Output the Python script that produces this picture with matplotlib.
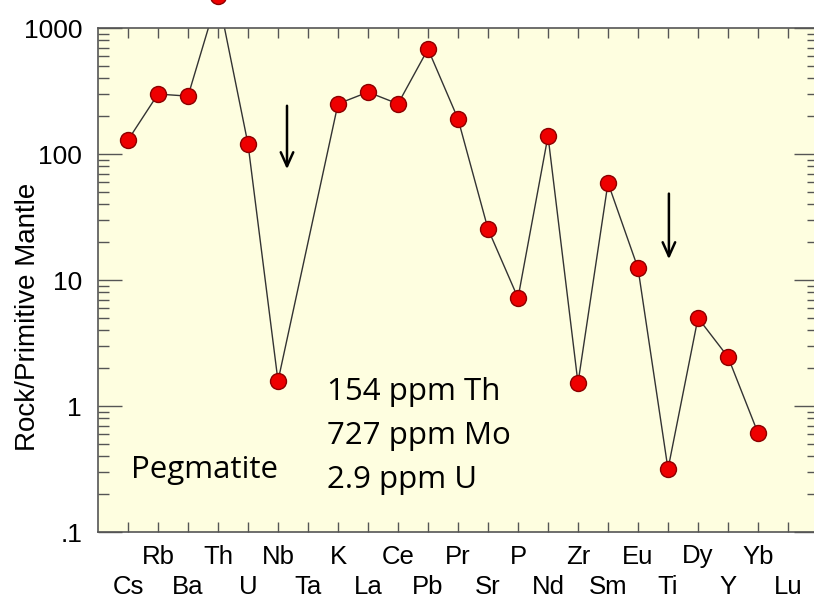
import matplotlib
matplotlib.use("Agg")
import matplotlib.pyplot as plt
import numpy as np
from matplotlib.ticker import FixedLocator, LogLocator, NullFormatter

elements = ["Cs", "Rb", "Ba", "Th", "U", "Nb", "Ta", "K", "La", "Ce", "Pb", "Pr",
            "Sr", "P", "Nd", "Zr", "Sm", "Eu", "Ti", "Dy", "Y", "Yb", "Lu"]
values = [129, 299, 288, 1800, 120, 1.58, None, 250, 310, 250, 681, 190,
          25.4, 7.2, 139, 1.52, 59, 12.4, 0.316, 5.0, 2.45, 0.61, None]
ytick_vals = [0.1, 1, 10, 100, 1000]
ytick_labels = [".1", "1", "10", "100", "1000"]
note_lines = ["154 ppm Th", "727 ppm Mo", "2.9 ppm U"]

plt.rcParams['font.family'] = ['Liberation Sans', 'DejaVu Sans']

W, H = 814, 601
fig = plt.figure(figsize=(W/100, H/100), dpi=100)
ax = fig.add_axes([98/W, 1-532/H, 720/W, 504/H])
ax.set_facecolor('#FEFEE0')

pos = np.arange(1, len(elements)+1)
xs = [p for p, v in zip(pos, values) if v is not None]
ys = [v for v in values if v is not None]
ax.plot(xs, ys, color='#333333', lw=1.0, zorder=2)
ax.plot(xs, ys, 'o', ms=11.5, mfc='#EE0000', mec='#8B0000', mew=1.0,
        clip_on=False, zorder=3)

ax.set_yscale('log')
ax.set_ylim(0.1, 1000)
ax.set_xlim(0, 24)

ax.yaxis.set_major_locator(FixedLocator(ytick_vals))
ax.set_yticklabels(ytick_labels, fontsize=19)
ax.yaxis.set_minor_locator(LogLocator(base=10, subs=np.arange(2, 10)))
ax.yaxis.set_minor_formatter(NullFormatter())

upper_pos = pos[1::2]
upper_lab = elements[1::2]
lower_pos = pos[0::2]
lower_lab = elements[0::2]
ax.set_xticks(upper_pos)
ax.set_xticklabels(upper_lab, fontsize=18.5)
ax.set_xticks(lower_pos, minor=True)
ax.set_xticklabels(lower_lab, minor=True, fontsize=18.5)

ax.tick_params(axis='x', which='major', direction='in', top=True, bottom=True,
               length=7, width=1, color='#555555', pad=9)
ax.tick_params(axis='x', which='minor', direction='in', top=True, bottom=True,
               length=7, width=1, color='#555555', pad=31)
ax.tick_params(axis='y', which='major', direction='in', left=True, right=True,
               length=17, width=1, color='#555555', pad=11.5)
ax.tick_params(axis='y', which='minor', direction='in', left=True, right=True,
               length=8, width=1, color='#555555')
for s in ax.spines.values():
    s.set_color('#555555')
    s.set_linewidth(1.2)

fig.text(28/W, 1 - 317/H, "Rock/Primitive Mantle", fontsize=20, rotation=90,
         ha='center', va='center')

def figtext(x, y, s):
    fig.text(x/W, 1 - y/H, s, fontsize=22.5, va='baseline', ha='left',
             family=['Open Sans', 'DejaVu Sans'])

figtext(131, 478, "Pegmatite")
for i, line in enumerate(note_lines):
    figtext(327, 400 + 44*i, line)

arrow = dict(arrowstyle='->,head_length=1.0,head_width=0.45', color='black', lw=1.8)
ax.annotate("", xy=(6.3, 72), xytext=(6.3, 254), arrowprops=arrow)
ax.annotate("", xy=(19.03, 13.9), xytext=(19.03, 51), arrowprops=arrow)

fig.savefig("out.png", dpi=100)
